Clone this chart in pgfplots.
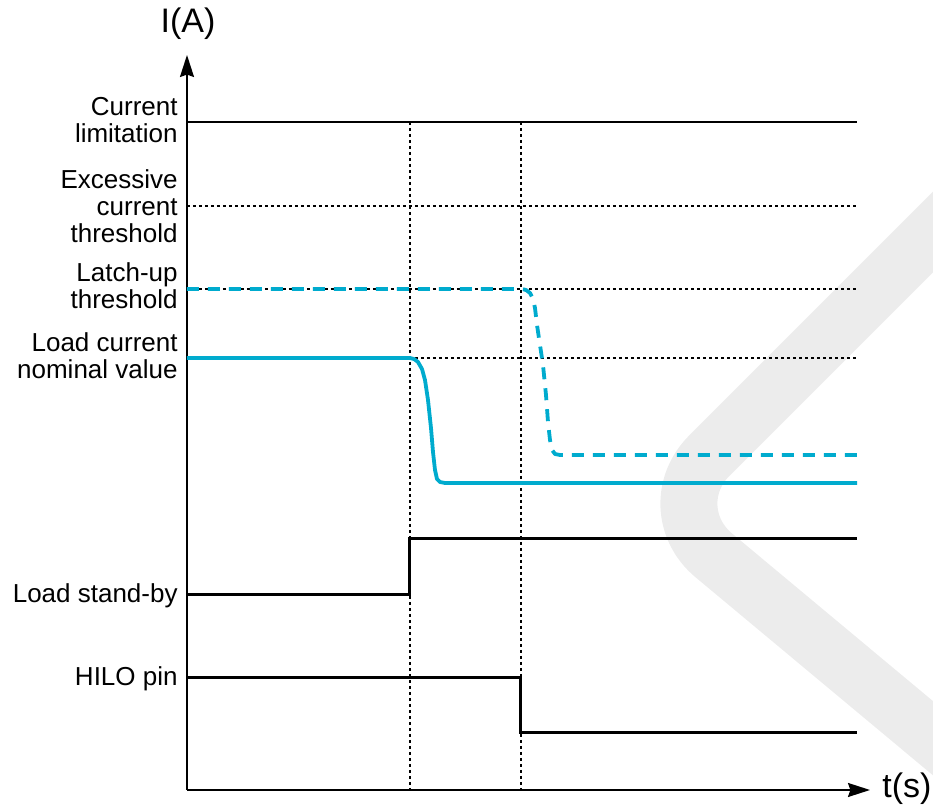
\documentclass[border=0pt]{standalone}
\usepackage{pgfplots}
\pgfplotsset{compat=1.18}
\usepackage{fontspec}
\setmainfont{Liberation Sans}
\usetikzlibrary{arrows.meta}
\definecolor{cy}{RGB}{0,171,206}
\definecolor{wm}{RGB}{236,236,236}
\newcommand{\lab}{\fontsize{13}{13.5}\selectfont}
\begin{document}
\begin{tikzpicture}
\begin{axis}[
  scale only axis, width=341.5pt, height=367.5pt,
  xmin=0, xmax=683, ymin=0, ymax=735,
  axis lines=left,
  axis line style={line width=0.9pt, -{Stealth[length=11pt,width=7pt,inset=1.2pt]}},
  xtick=\empty, ytick=\empty, clip=false]
% bounding box of the whole picture
\path (axis cs:-187,-18) rectangle (axis cs:746,790);
% watermark
\draw[overlay, wm, line width=28.5pt, rounded corners=37pt] (axis cs:800,612) -- (axis cs:470,282) -- (axis cs:904,-80);
% reference lines
\addplot[black, line width=1.3pt] coordinates {(0,668) (670,668)};
\addplot[black, line width=0.75pt, dash pattern=on 1.5pt off 1.5pt] coordinates {(0,584) (670,584)};
\addplot[black, line width=0.75pt, dash pattern=on 1.5pt off 1.5pt] coordinates {(0,501) (670,501)};
\addplot[black, line width=0.75pt, dash pattern=on 1.5pt off 1.5pt] coordinates {(0,432) (670,432)};
\addplot[black, line width=0.75pt, dash pattern=on 1.5pt off 1.5pt] coordinates {(223,668) (223,0)};
\addplot[black, line width=0.75pt, dash pattern=on 1.5pt off 1.5pt] coordinates {(334,668) (334,0)};
% cyan currents
\addplot[cy, line width=1.9pt, line join=round] coordinates {
(0,432) (223,432) (227,431) (231,428) (235,421) (238,410) (241,390) (244,362) (246,338) (248,320) (250,311) (253,308) (258,307) (264,307) (670,307)};
\addplot[cy, line width=1.9pt, line join=round, dash pattern=on 6pt off 4.5pt] coordinates {
(0,501) (335,501) (339,500) (343,497) (346,491) (348,482) (350,465) (353,445) (356,425) (359,395) (361,368) (363,350) (365,340) (368,336) (373,335) (670,335)};
% digital signals
\addplot[black, line width=1.5pt] coordinates {(0,195) (223,195) (223,251) (670,251)};
\addplot[black, line width=1.5pt] coordinates {(0,112) (334,112) (334,57) (670,57)};
% labels
\node[anchor=east, align=right, font=\lab, inner sep=0pt] at (axis cs:-9,670) {Current\\limitation};
\node[anchor=east, align=right, font=\lab, inner sep=0pt] at (axis cs:-9,584) {Excessive\\current\\threshold};
\node[anchor=east, align=right, font=\lab, inner sep=0pt] at (axis cs:-9,504) {Latch-up\\threshold};
\node[anchor=east, align=right, font=\lab, inner sep=0pt] at (axis cs:-9,434) {Load current\\nominal value};
\node[anchor=east, align=right, font=\lab, inner sep=0pt] at (axis cs:-9,194) {Load stand-by};
\node[anchor=east, align=right, font=\lab, inner sep=0pt] at (axis cs:-9,111) {HILO pin};
\node[font=\fontsize{17}{20}\selectfont, inner sep=0pt] at (axis cs:1,766) {I(A)};
\node[font=\fontsize{17}{20}\selectfont, inner sep=0pt, anchor=west] at (axis cs:695,1) {t(s)};
\end{axis}
\end{tikzpicture}
\end{document}
